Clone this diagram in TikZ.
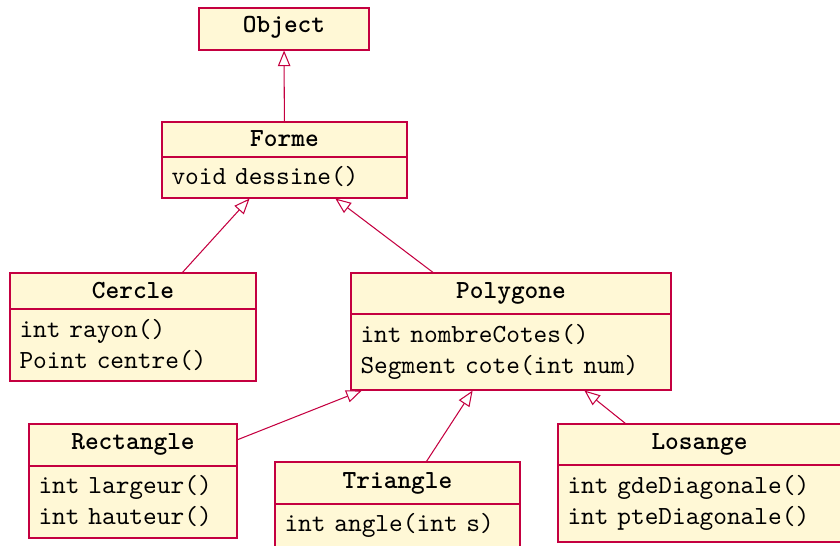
\documentclass[tikz,border=0pt]{standalone}
\usetikzlibrary{arrows.meta,fit}

\definecolor{umlline}{RGB}{196,0,64}
\definecolor{umlfill}{RGB}{255,248,214}

\tikzset{
  classbox/.style={draw=umlline, fill=umlfill, inner sep=0pt, line width=0.4pt},
  classname/.style={anchor=base, font=\ttfamily\bfseries, inner sep=0pt},
  member/.style={anchor=base west, font=\ttfamily, inner sep=0pt,
    execute at begin node={\spaceskip=3.33pt plus 1.11pt minus 1.11pt\relax}},
  separator/.style={draw=umlline, line width=0.4pt},
  inherit/.style={draw=umlline, line width=0.4pt,
    -{Triangle[open, length=6pt, width=4.8pt, fill=white]}},
}

\begin{document}
\begin{tikzpicture}[x=0.383pt, y=-0.383pt]
\useasboundingbox (0,0) rectangle (840,545);

% Object
\node[classbox, fit={(199,8) (369,50)}] (object) {};
\node[classname] (object-name) at (284,33) {Object};

% Forme
\node[classbox, fit={(162,122) (407,198)}] (forme) {};
\draw[separator] (162,157) -- (407,157);
\node[classname] (forme-name) at (284.5,147) {Forme};
\node[member] (forme-m1) at (171,185) {void dessine()};

% Cercle
\node[classbox, fit={(10,273) (256,381)}] (cercle) {};
\draw[separator] (10,309) -- (256,309);
\node[classname] (cercle-name) at (133,298) {Cercle};
\node[member] (cercle-m1) at (19,337) {int rayon()};
\node[member] (cercle-m2) at (19,368) {Point centre()};

% Polygone
\node[classbox, fit={(351,273) (671,390)}] (polygone) {};
\draw[separator] (351,314) -- (671,314);
\node[classname] (polygone-name) at (511,298) {Polygone};
\node[member] (polygone-m1) at (360,342.5) {int nombreCotes()};
\node[member] (polygone-m2) at (360,373.5) {Segment cote(int num)};

% Rectangle
\node[classbox, fit={(29,424) (237,538)}] (rectangle) {};
\draw[separator] (29,466) -- (237,466);
\node[classname] (rectangle-name) at (133,449) {Rectangle};
\node[member] (rectangle-m1) at (38,493) {int largeur()};
\node[member] (rectangle-m2) at (38,524) {int hauteur()};

% Triangle
\node[classbox, fit={(275,462) (520,550)}] (triangle) {};
\draw[separator] (275,504) -- (520,504);
\node[classname] (triangle-name) at (397.5,488) {Triangle};
\node[member] (triangle-m1) at (284,531) {int angle(int s)};

% Losange
\node[classbox, fit={(558,424) (841,542)}] (losange) {};
\draw[separator] (558,465) -- (841,465);
\node[classname] (losange-name) at (699.5,449) {Losange};
\node[member] (losange-m1) at (567,493) {int gdeDiagonale()};
\node[member] (losange-m2) at (567,524) {int pteDiagonale()};

% Inheritance links
\draw[inherit] (forme) -- (object);
\draw[inherit] (cercle) -- (forme);
\draw[inherit] (polygone) -- (forme);
\draw[inherit] (rectangle) -- (polygone);
\draw[inherit] (triangle) -- (polygone);
\draw[inherit] (losange) -- (polygone);
\end{tikzpicture}
\end{document}
